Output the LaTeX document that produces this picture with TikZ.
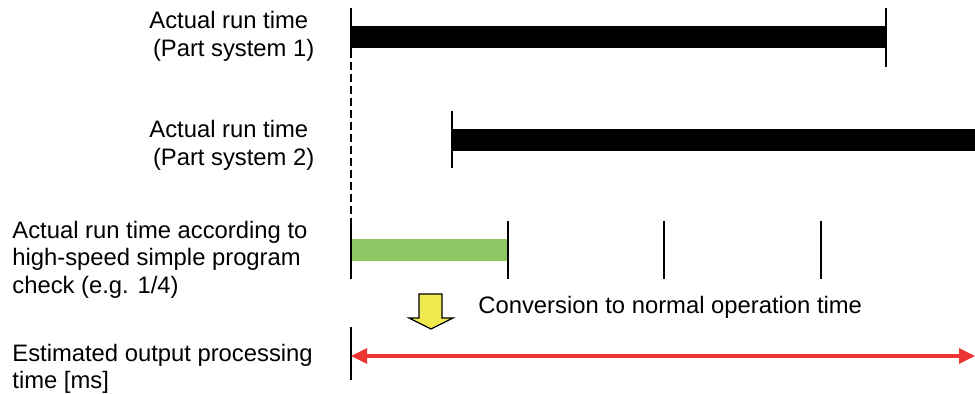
\documentclass[tikz,border=0pt]{standalone}
\usepackage{fontspec}
\setmainfont{Liberation Sans}
\usetikzlibrary{arrows.meta, positioning}
\definecolor{barGreen}{HTML}{8BC763}
\definecolor{arrYellow}{HTML}{EEEA50}
\definecolor{arrRed}{HTML}{EE3333}

\begin{document}
\begin{tikzpicture}[
    x=0.5pt, y=-0.5pt,
    lbl/.style={font=\fontsize{11.9}{13.8}\selectfont, align=left, anchor=west, inner sep=0pt},
    tick/.style={line width=0.85pt},
    runbar/.style={fill=black, draw=none},
    chkbar/.style={fill=barGreen, draw=none},
    guide/.style={line width=1.2pt, dash pattern=on 4pt off 2pt},
    span/.style={{Triangle[length=8pt,width=7.5pt]}-{Triangle[length=8pt,width=7.5pt]}, line width=1.6pt, arrRed},
]
\useasboundingbox (0,0) rectangle (975,394);
% === Labels (left column) ===
\node[lbl] (lab1) at (149,36.5) {Actual run time\\\hspace{1.8pt}(Part system 1)};
\node[lbl] (lab2) at (149,145.5) {Actual run time\\\hspace{1.8pt}(Part system 2)};
\node[lbl] (lab3) at (12,259.5) {Actual run time according to\\high-speed simple program\\check (e.g. 1/4)};
\node[lbl] (lab4) at (12,369) {Estimated output processing\\time [ms]};
% === Part system 1 ===
\coordinate (s1) at (351,26);
\coordinate (e1) at (886,48);
\fill[runbar] (s1) rectangle (e1);
\draw[tick] (351,8) -- (351,50);
\draw[tick] (886,8) -- (886,67);
% === Part system 2 ===
\coordinate (s2) at (452,129);
\coordinate (e2) at (975,151);
\fill[runbar] (s2) rectangle (e2);
\draw[tick] (452,111) -- (452,168);
% === Dashed start guide ===
\draw[guide] (351,50) -- (351,222);
% === High-speed check ===
\coordinate (sg) at (351,239);
\coordinate (eg) at (508,261);
\fill[chkbar] (sg) rectangle (eg);
\foreach \xx in {351,508,664,821}
  \draw[tick] (\xx,221) -- (\xx,279);
% === Conversion arrow ===
\draw[fill=arrYellow, line width=0.6pt, line join=miter]
  (419,294) -- (442,294) -- (442,318) -- (453,318) -- (431,329) -- (409,318) -- (419,318) -- cycle;
\node[lbl] (conv) at (478,307) {Conversion to normal operation time};
% === Estimated output time ===
\draw[tick] (351,327) -- (351,380);
\coordinate (ra) at (351,356);
\coordinate (rb) at (975,356);
\draw[span] (ra) -- (rb);
\end{tikzpicture}
\end{document}
